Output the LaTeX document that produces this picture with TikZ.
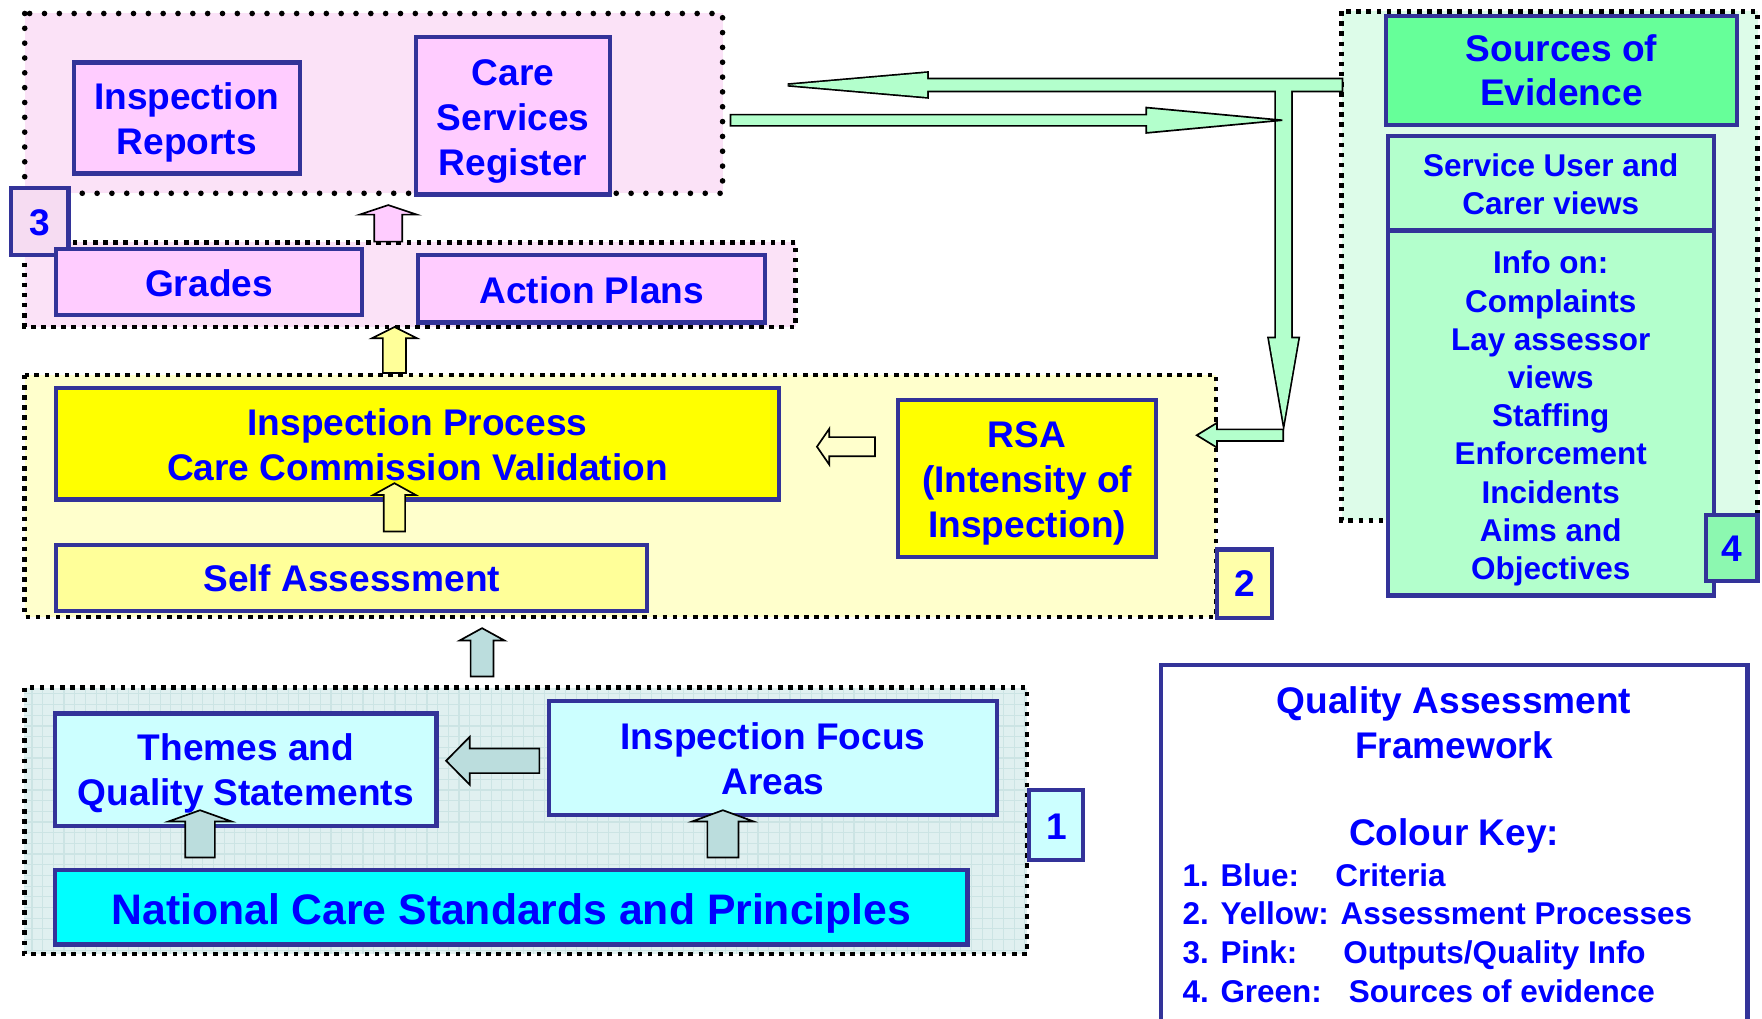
\documentclass[tikz,border=0pt]{standalone}
\usepackage{fontspec}
\setmainfont{Liberation Sans}
\usetikzlibrary{calc}
\definecolor{bord}{HTML}{333399}
\definecolor{txt}{HTML}{0000FF}
\definecolor{pinkbox}{HTML}{FFCCFF}
\definecolor{pinkbg}{HTML}{FBE2F7}
\definecolor{pinknum}{HTML}{F6DCF2}
\definecolor{yelbox}{HTML}{FFFF00}
\definecolor{yelpale}{HTML}{FFFF99}
\definecolor{yelbg}{HTML}{FFFFCC}
\definecolor{yelnum}{HTML}{FFFFAA}
\definecolor{cyanbox}{HTML}{00FFFF}
\definecolor{bluebox}{HTML}{CCFFFF}
\definecolor{bluebg}{HTML}{E0F0F0}
\definecolor{bluegrid}{HTML}{CCE4E4}
\definecolor{bluearr}{HTML}{BBDDDD}
\definecolor{greenbox}{HTML}{66FF99}
\definecolor{greenpale}{HTML}{B3FFCC}
\definecolor{greenbg}{HTML}{DDFCE9}
\definecolor{greennum}{HTML}{8CF8B0}
\tikzset{
  box/.style={draw=bord, line width=1.9pt, inner sep=0pt},
  tx/.style={text=txt, font=\fontsize{16.5}{20}\selectfont\bfseries, align=center, inner sep=0pt},
  smalltext/.style={font=\fontsize{14}{17}\selectfont\bfseries},
  lgtitle/.style={text=txt, font=\fontsize{16.5}{20}\selectfont\bfseries, align=center, inner sep=0pt},
  lgitem/.style={text=txt, font=\fontsize{14}{17}\selectfont\bfseries, inner sep=0pt, anchor=base west},
  rounddots/.style={draw=black, line width=2.5pt, line cap=round, dash pattern=on 0pt off 6.6pt},
  sqdots/.style={draw=black, line width=2.1pt, dash pattern=on 2pt off 2.5pt},
  blockarr/.style={draw=black, line width=0.75pt, line join=miter},
}
% #1 style, #2 start, #3 tip, #4 shaft half width, #5 head half width, #6 head length
\newcommand{\blockarrow}[6][]{%
  \coordinate (bah) at ($(#3)!#6!(#2)$);
  \path[blockarr,#1] ($(#2)!#4!90:(#3)$) -- ($(bah)!#4!90:(#3)$) -- ($(bah)!#5!90:(#3)$)
    -- (#3) -- ($(bah)!#5!-90:(#3)$) -- ($(bah)!#4!-90:(#3)$) -- ($(#2)!#4!-90:(#3)$) -- cycle;
}
% text of a box: #1 extra style, #2 box name, #3 downward shift, #4 text
\newcommand{\boxtext}[4][]{%
  \node[tx,#1] (#2t) at ([yshift=-#3]#2.center) {#4};
}
\begin{document}
\begin{tikzpicture}[x=0.5pt,y=-0.5pt]
\useasboundingbox (0,0) rectangle (1568,906);
\clip (0,0) rectangle (1568,906);
\fill[white] (0,0) rectangle (1568,906);

% group backgrounds
\fill[pinkbg] (22,12) rectangle (643,172);
\fill[pinkbg] (22,215.6) rectangle (708,291);
\fill[yelbg] (22,333.7) rectangle (1082,549);
\fill[bluebg] (21.6,612) rectangle (914,849);
\draw[bluegrid, line width=0.5pt, step=4.75pt] (21.6,849) grid (914,612);
\fill[greenbg] (1194,10) rectangle (1564,463);

% group borders
\draw[rounddots] (22,12) rectangle (643,172);
\draw[sqdots] (22,215.6) rectangle (708,291);
\draw[sqdots] (22,333.7) rectangle (1082,549);
\draw[sqdots] (21.6,612) rectangle (914,849);
\draw[sqdots] (1194,10) rectangle (1564,463);

% pink boxes
\node[box, fill=pinkbox, minimum width=201*0.5pt, minimum height=99*0.5pt] (ir) at (166.2,105) {};
\node[box, fill=pinkbox, minimum width=173*0.5pt, minimum height=140*0.5pt] (csr) at (456.5,103) {};
\node[box, fill=pinknum, minimum width=51*0.5pt, minimum height=60*0.5pt] (n3) at (35.5,197) {};
\node[box, fill=pinkbox, minimum width=272*0.5pt, minimum height=58.5*0.5pt] (gr) at (186,251) {};
\node[box, fill=pinkbox, minimum width=309*0.5pt, minimum height=60*0.5pt] (ap) at (526.5,257) {};
\boxtext{ir}{2pt}{Inspection\\Reports}
\boxtext{csr}{2.5pt}{Care\\Services\\Register}
\boxtext{n3}{0.5pt}{3}
\boxtext{gr}{0.5pt}{Grades}
\boxtext{ap}{0.5pt}{Action Plans}

% yellow boxes
\node[box, fill=yelbox, minimum width=643*0.5pt, minimum height=99*0.5pt] (ip) at (371.5,395) {};
\node[box, fill=yelbox, minimum width=230*0.5pt, minimum height=139.5*0.5pt] (rsa) at (914,426) {};
\node[box, fill=yelpale, minimum width=526*0.5pt, minimum height=59*0.5pt] (sa) at (313,514.5) {};
\node[box, fill=yelnum, minimum width=49*0.5pt, minimum height=61*0.5pt] (n2) at (1107.5,519.5) {};
\boxtext{ip}{0.5pt}{Inspection Process\\Care Commission Validation}
\boxtext{rsa}{2pt}{RSA\\(Intensity of\\Inspection)}
\boxtext{sa}{0pt}{Self Assessment}
\boxtext{n2}{0pt}{2}

% blue boxes
\node[box, fill=bluebox, minimum width=339.5*0.5pt, minimum height=100*0.5pt] (th) at (218.8,685) {};
\node[box, fill=bluebox, minimum width=398.5*0.5pt, minimum height=101*0.5pt] (ifa) at (687.8,674.5) {};
\node[box, fill=cyanbox, minimum width=812*0.5pt, minimum height=66*0.5pt] (ncs) at (455,807.5) {};
\node[box, fill=bluebox, minimum width=48*0.5pt, minimum height=62*0.5pt] (n1) at (940,734) {};
\boxtext{th}{1.5pt}{Themes and\\Quality Statements}
\boxtext{ifa}{0.5pt}{Inspection Focus\\Areas}
\boxtext[font=\fontsize{19}{22}\selectfont\bfseries]{ncs}{2.5pt}{National Care Standards and Principles}
\boxtext{n1}{1pt}{1}

% green boxes
\node[box, fill=greenbox, minimum width=312*0.5pt, minimum height=97*0.5pt] (soe) at (1389.5,62.5) {};
\node[box, fill=greenpale, minimum width=290*0.5pt, minimum height=84*0.5pt] (suc) at (1380,163) {};
\node[box, fill=greenpale, minimum width=290*0.5pt, minimum height=325*0.5pt] (info) at (1380,367.5) {};
\node[box, fill=greennum, minimum width=46*0.5pt, minimum height=59*0.5pt] (n4) at (1541,487.5) {};
\boxtext{soe}{0pt}{Sources of\\Evidence}
\boxtext[smalltext]{suc}{0.5pt}{Service User and\\Carer views}
\boxtext[smalltext]{info}{2.5pt}{Info on:\\Complaints\\Lay assessor\\views\\Staffing\\Enforcement\\Incidents\\Aims and\\Objectives}
\boxtext{n4}{0.5pt}{4}

% legend
\node[draw=bord, line width=1.9pt, fill=white, minimum width=522*0.5pt, minimum height=340*0.5pt, inner sep=0pt] (legend) at (1294,762) {};
\node[lgtitle] (qaf) at (1294,643) {Quality Assessment\\Framework};
\node[lgtitle] (ck) at (1294,744) {Colour Key:};
\node[lgitem] (k1) at (1052,789) {1. Blue:};
\node[lgitem] (k1b) at (1188,789) {Criteria};
\node[lgitem] (k2) at (1052,823) {2. Yellow: Assessment Processes};
\node[lgitem] (k3) at (1052,857) {3. Pink:};
\node[lgitem] (k3b) at (1195,857) {Outputs/Quality Info};
\node[lgitem] (k4) at (1052,892) {4. Green:};
\node[lgitem] (k4b) at (1200,892) {Sources of evidence};

% arrow end points
\coordinate (pa1) at (345.5,215);  \coordinate (pa2) at (345.5,182.5);
\coordinate (ya1) at (351,332);    \coordinate (ya2) at (351,291);
\coordinate (yb1) at (351,473);    \coordinate (yb2) at (351,430);
\coordinate (yc1) at (778.6,397.5); \coordinate (yc2) at (727,397.5);
\coordinate (ba1) at (429,602);    \coordinate (ba2) at (429,559);
\coordinate (bb1) at (480,677);    \coordinate (bb2) at (397,677);
\coordinate (bc1) at (178,763);    \coordinate (bc2) at (178,721);
\coordinate (bd1) at (643.3,763);  \coordinate (bd2) at (643.3,721);
\coordinate (gA1) at (1194,75.6);  \coordinate (gA2) at (701,75.6);
\coordinate (gC1) at (1142.3,75.6); \coordinate (gC2) at (1142.3,376);
\coordinate (gB1) at (650,107);    \coordinate (gB2) at (1141,107);
\coordinate (gD1) at (1142,387.3); \coordinate (gD2) at (1065,387.3);

% block arrows
\blockarrow[fill=pinkbox]{pa1}{pa2}{6.25pt}{12.75pt}{4.25pt}
\blockarrow[fill=yelpale]{ya1}{ya2}{5.15pt}{10pt}{5pt}
\blockarrow[fill=yelpale]{yb1}{yb2}{4.75pt}{9.5pt}{5.25pt}
\blockarrow[fill=yelbg]{yc1}{yc2}{4.25pt}{8pt}{5.5pt}
\blockarrow[fill=bluearr]{ba1}{ba2}{5.1pt}{10pt}{5.5pt}
\blockarrow[fill=bluearr]{bb1}{bb2}{5.5pt}{10.65pt}{10.5pt}
\blockarrow[fill=bluearr]{bc1}{bc2}{6.6pt}{14pt}{5pt}
\blockarrow[fill=bluearr]{bd1}{bd2}{6.9pt}{13.65pt}{5pt}

% green T-shaped arrows (outline pass, then fill pass to merge)
\blockarrow[fill=greenpale, line width=1.5pt]{gA1}{gA2}{2.5pt}{5.35pt}{62pt}
\blockarrow[fill=greenpale, line width=1.5pt]{gC1}{gC2}{3.35pt}{6.5pt}{37.5pt}
\blockarrow[fill=greenpale, draw=none]{gA1}{gA2}{2.5pt}{5.35pt}{62pt}
\blockarrow[fill=greenpale, draw=none]{gC1}{gC2}{3.35pt}{6.5pt}{37.5pt}
\blockarrow[fill=greenpale]{gB1}{gB2}{2.5pt}{5.65pt}{60.5pt}
\blockarrow[fill=greenpale]{gD1}{gD2}{2.6pt}{5.5pt}{9pt}
\end{tikzpicture}
\end{document}
